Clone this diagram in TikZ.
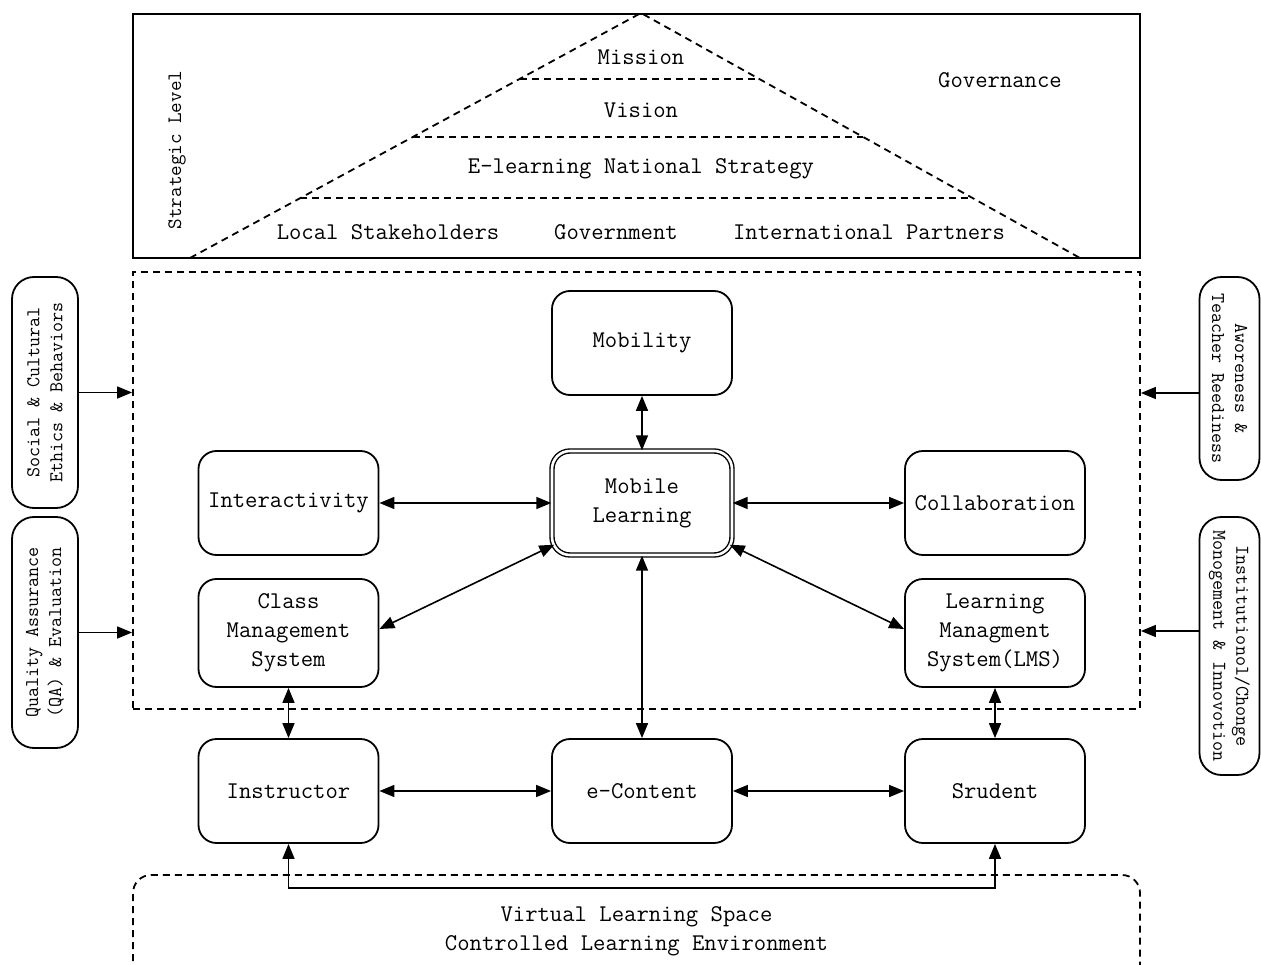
\documentclass[tikz,border=0pt]{standalone}
\usepackage{fontspec}
\setmainfont{Latin Modern Mono}
\usetikzlibrary{arrows.meta,calc}
\begin{document}
\begin{tikzpicture}[x=1pt,y=-1pt,
  box/.style={draw, line width=1.8pt, rounded corners=18pt, minimum width=180pt, minimum height=104pt, align=center, inner sep=0pt, font=\fontsize{24}{29}\selectfont},
  side/.style={draw, line width=1.8pt, rounded corners=22pt, align=center, inner sep=0pt, font=\fontsize{19.5}{23}\selectfont},
  lbl/.style={inner sep=0pt, align=center, font=\fontsize{24}{29}\selectfont},
  dsh/.style={line width=1.8pt, dash pattern=on 7pt off 5pt},
  conn/.style={line width=1.6pt, {Triangle[length=15pt,width=12pt]}-{Triangle[length=15pt,width=12pt]}},
  into/.style={line width=1.6pt, -{Triangle[length=15pt,width=12pt]}},
]
\useasboundingbox (0,0) rectangle (1261,965);
\clip (0,0) rectangle (1261,965);
\fill[white] (0,0) rectangle (1261,965);

% strategic level box and pyramid
\node[draw, line width=1.8pt, minimum width=1007pt, minimum height=244pt, inner sep=0pt] (top) at (636.5,136) {};
\coordinate (apex) at (641,13);
\coordinate (pl) at (190,258);
\coordinate (pr) at (1080,258);
\draw[dsh] (pl) -- (apex) -- (pr);
\foreach \t in {0.269,0.506,0.755}
  \draw[dsh] ($(apex)!\t!(pl)$) -- ($(apex)!\t!(pr)$);
\node[lbl] (mission) at (641,57) {Mission};
\node[lbl] (vision) at (641,110) {Vision};
\node[lbl] (strat) at (641,169) {E-learning National Strategy};
\node[lbl] (local) at (388,232) {Local Stakeholders};
\node[lbl] (gov) at (616,232) {Government};
\node[lbl] (intl) at (869,232) {International Partners};
\node[lbl] (govern) at (1000,80) {Governance};
\node[lbl, rotate=90, font=\fontsize{20.5}{25}\selectfont] (slevel) at (177,150) {Strategic Level};

% middle dashed box
\node[dsh, draw, minimum width=1007pt, minimum height=437pt, inner sep=0pt] (mid) at (636.5,490.5) {};

% side boxes
\node[side, rotate=90, minimum width=231pt, minimum height=66pt] (soc) at (45,392.5) {Social \& Cultural\\Ethics \& Behaviors};
\node[side, rotate=90, minimum width=231pt, minimum height=66pt] (qa) at (45,632.5) {Quality Assurance\\(QA) \& Evaluation};
\node[side, rotate=-90, minimum width=203pt, minimum height=60pt] (aw) at (1229.5,378.5) {Aworeness \&\\Teacher Reediness};
\node[side, rotate=-90, minimum width=258pt, minimum height=60pt] (inst) at (1229.5,646) {Institutionol/Chonge\\Monogement \& Innovotion};

\draw[into] (soc.south) -- (mid.west |- soc.south);
\draw[into] (qa.south) -- (mid.west |- qa.south);
\draw[into] (aw.south |- 0,393) -- (mid.east |- 0,393);
\draw[into] (inst.south |- 0,631) -- (mid.east |- 0,631);

% main boxes
\node[box] (mob) at (642,343) {Mobility};
\node[box, double, double distance=2.6pt, line width=1.4pt] (ml) at (642,503) {Mobile\\Learning};
\node[box] (inter) at (288.5,503) {Interactivity};
\node[box] (collab) at (995,503) {Collaboration};
\node[box, minimum height=108pt] (cms) at (288.5,633) {Class\\Management\\System};
\node[box, minimum height=108pt] (lms) at (995,633) {Learning\\Managment\\System(LMS)};
\node[box] (instr) at (288.5,791) {Instructor};
\node[box] (econ) at (642,791) {e-Content};
\node[box] (stud) at (995,791) {Srudent};

\draw[conn] (mob) -- (ml);
\draw[conn] (inter) -- (ml);
\draw[conn] (ml) -- (collab);
\draw[conn] ([yshift=4pt]cms.east) -- ([xshift=3pt,yshift=11pt]ml.south west);
\draw[conn] ([yshift=4pt]lms.west) -- ([xshift=-3pt,yshift=11pt]ml.south east);
\draw[conn] (ml) -- (econ);
\draw[conn] (cms) -- (instr);
\draw[conn] (lms) -- (stud);
\draw[conn] (instr) -- (econ);
\draw[conn] (econ) -- (stud);

% bottom virtual space
\draw[dsh, rounded corners=18pt] (133,985) -- (133,875) -- (1140,875) -- (1140,985);
\coordinate (vl) at (642,888);
\draw[conn] (instr.south) |- (vl) -| (stud.south);
\node[lbl] (vls) at (636.5,917) {Virtual Learning Space};
\node[lbl] (cle) at (636.5,946) {Controlled Learning Environment};
\end{tikzpicture}
\end{document}
